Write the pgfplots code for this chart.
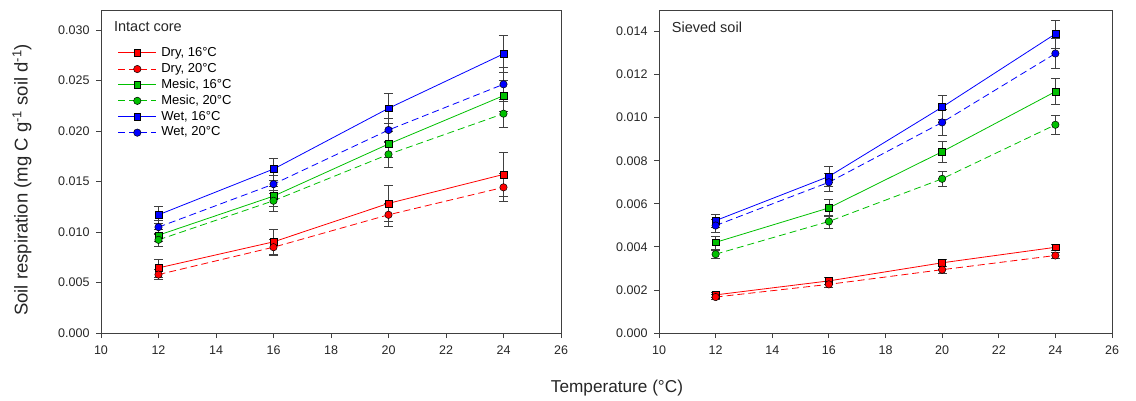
\documentclass[border=0pt]{standalone}
\usepackage{fontspec}
\setmainfont{Liberation Sans}
\usepackage{pgfplots}
\usepackage{pgfplotstable}
\pgfplotsset{compat=1.18}
\definecolor{cred}{RGB}{255,0,0}
\definecolor{cgreen}{RGB}{0,192,0}
\definecolor{cblue}{RGB}{0,0,255}
\definecolor{axgray}{RGB}{64,64,64}

% T  value  error
\pgfplotstableread{
T   dry16   dry16e  dry20   dry20e  mes16   mes16e  mes20   mes20e  wet16   wet16e  wet20   wet20e
12  0.00645 0.0009  0.00579 0.0005  0.00969 0.0006  0.00923 0.0006  0.01171 0.0008  0.01049 0.0007
16  0.00903 0.0012  0.00850 0.0008  0.01356 0.0010  0.01310 0.0010  0.01624 0.0011  0.01475 0.0009
20  0.01284 0.0018  0.01171 0.0011  0.01872 0.0013  0.01770 0.0013  0.02226 0.00145 0.02011 0.0012
24  0.01571 0.0022  0.01443 0.0014  0.02351 0.0015  0.02173 0.0014  0.02765 0.0018  0.02464 0.0017
}\intact

\pgfplotstableread{
T   dry16   dry16e  dry20   dry20e  mes16   mes16e  mes20   mes20e  wet16   wet16e  wet20   wet20e
12  0.00177 0.00012 0.00167 0.00012 0.00421 0.0003  0.00366 0.0002  0.00522 0.0003  0.00499 0.0003
16  0.00242 0.00015 0.00226 0.00013 0.00581 0.0004  0.00518 0.0003  0.00727 0.00045 0.00700 0.0004
20  0.00326 0.00015 0.00294 0.00015 0.00842 0.0005  0.00716 0.00035 0.01049 0.00055 0.00978 0.0006
24  0.00398 0.00015 0.00360 0.00015 0.01121 0.0006  0.00967 0.00045 0.01389 0.00065 0.01298 0.0007
}\sieved

\pgfplotsset{
  base/.style={line width=0.8pt,
    error bars/y dir=both, error bars/y explicit,
    error bars/error bar style={color=axgray, line width=0.6pt, solid},
    error bars/error mark options={rotate=90, mark size=4.6pt, color=axgray, line width=0.6pt}},
  sq/.style={base, color=#1, mark=square*, mark size=3.4pt,
    mark options={solid, fill=#1, draw=black, line width=0.5pt},
    legend image code/.code={
      \draw[draw=#1, line width=1.1pt, solid] (0pt,0.3pt) -- (15.6pt,0.3pt);
      \draw[draw=#1, line width=1.1pt, solid] (22.4pt,0.3pt) -- (38pt,0.3pt);
      \draw[black, fill=#1, line width=0.5pt, solid] (15.6pt,-3.1pt) rectangle (22.4pt,3.7pt);}},
  ci/.style={base, color=#1, dash pattern=on 7pt off 4pt, mark=*, mark size=3.7pt,
    mark options={solid, fill=#1, draw=black, line width=0.5pt},
    legend image code/.code={
      \draw[draw=#1, line width=1pt, dash pattern=on 7pt off 4pt] (0pt,0pt) -- (38pt,0pt);
      \draw[black, fill=#1, line width=0.5pt, solid] (19pt,0pt) circle (3.7pt);}},
  panel/.style={
    scale only axis, width=#1, height=323pt,
    xmin=10, xmax=26, xtick={10,12,...,26}, ymin=0,
    axis line style={axgray, line width=1pt},
    tick style={axgray, line width=0.8pt},
    tick align=outside, major tick length=5pt,
    xtick pos=lower, ytick pos=left,
    scaled y ticks=false,
    tick label style={font=\fontsize{12.5}{15}\selectfont, text=black!85},
    /pgf/number format/assume math mode=true,
    yticklabel style={xshift=-3pt, /pgf/number format/fixed, /pgf/number format/fixed zerofill, /pgf/number format/precision=3},
    xticklabel style={yshift=-4pt, /pgf/number format/fixed, /pgf/number format/precision=0},
  },
}

\begin{document}
\begin{tikzpicture}
\path (0,0) rectangle (1136pt,400pt);

\begin{axis}[panel=460pt, at={(101pt,67pt)}, anchor=south west,
  ymax=0.032, ytick={0,0.005,...,0.030},
  legend style={at={(axis description cs:0.036,0.891)}, anchor=north west,
    draw=none, fill=none, inner sep=0pt, column sep=3pt,
    font=\fontsize{13}{15}\selectfont, row sep=0.4pt,
    nodes={inner sep=1.5pt, text height=9.5pt, text depth=3pt}},
  legend cell align=left]
\addplot[sq=cred]   table[x=T, y=dry16, y error=dry16e] {\intact};
\addlegendentry{Dry, 16°C}
\addplot[ci=cred]   table[x=T, y=dry20, y error=dry20e] {\intact};
\addlegendentry{Dry, 20°C}
\addplot[sq=cgreen] table[x=T, y=mes16, y error=mes16e] {\intact};
\addlegendentry{Mesic, 16°C}
\addplot[ci=cgreen] table[x=T, y=mes20, y error=mes20e] {\intact};
\addlegendentry{Mesic, 20°C}
\addplot[sq=cblue]  table[x=T, y=wet16, y error=wet16e] {\intact};
\addlegendentry{Wet, 16°C}
\addplot[ci=cblue]  table[x=T, y=wet20, y error=wet20e] {\intact};
\addlegendentry{Wet, 20°C}
\node[anchor=north west, inner sep=0pt, font=\fontsize{14.5}{17}\selectfont, text=black!85]
  at (axis description cs:0.028,0.965) {Intact core};
\end{axis}

\begin{axis}[panel=453pt, at={(659pt,67pt)}, anchor=south west,
  ymax=0.015, ytick={0,0.002,...,0.014}]
\addplot[sq=cred]   table[x=T, y=dry16, y error=dry16e] {\sieved};
\addplot[ci=cred]   table[x=T, y=dry20, y error=dry20e] {\sieved};
\addplot[sq=cgreen] table[x=T, y=mes16, y error=mes16e] {\sieved};
\addplot[ci=cgreen] table[x=T, y=mes20, y error=mes20e] {\sieved};
\addplot[sq=cblue]  table[x=T, y=wet16, y error=wet16e] {\sieved};
\addplot[ci=cblue]  table[x=T, y=wet20, y error=wet20e] {\sieved};
\node[anchor=north west, inner sep=0pt, font=\fontsize{14.5}{17}\selectfont, text=black!85]
  at (axis description cs:0.028,0.965) {Sieved soil};
\end{axis}

\node[rotate=90, font=\fontsize{18.5}{21}\selectfont, text=black!85] at (22pt,220pt)
  {Soil respiration (mg C g\textsuperscript{-1} soil d\textsuperscript{-1})};
\node[font=\fontsize{17.2}{20}\selectfont, text=black!85] at (617pt,12pt)
  {Temperature (°C)};
\end{tikzpicture}
\end{document}
